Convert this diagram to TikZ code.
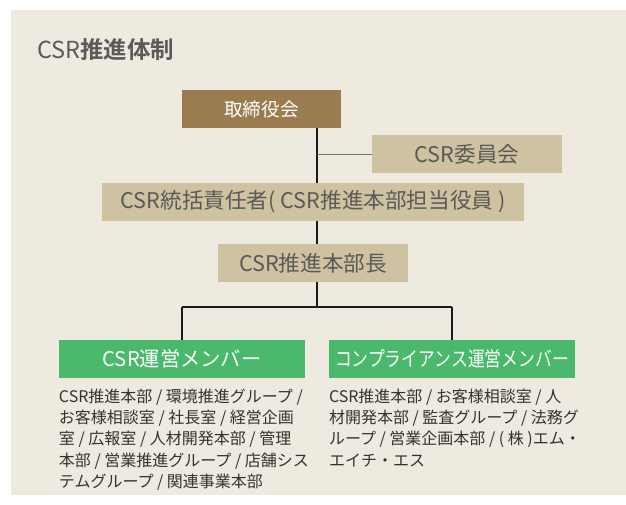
\documentclass[tikz,border=0pt]{standalone}
\usepackage{fontspec}
\usepackage{graphicx}
\usepackage{tikz}
\usepackage{xcolor}
\usetikzlibrary{positioning,calc}
\setmainfont{Noto Sans CJK JP}[BoldFont={Noto Sans CJK JP Bold}]
\definecolor{panel}{HTML}{EEEAE0}
\definecolor{bark}{HTML}{9A7C50}
\definecolor{sand}{HTML}{CFC2A0}
\definecolor{leaf}{HTML}{4AB96B}
\definecolor{ink}{HTML}{1A1A1A}
\definecolor{inkgray}{HTML}{5A5A5A}
\definecolor{bodygray}{HTML}{333333}
\definecolor{linegray}{HTML}{707070}
\tikzset{
  boardbox/.style={fill=bark,text=white,minimum width=119.25pt,minimum height=28.5pt,
                   inner sep=0pt,font=\fontsize{14}{16}\selectfont},
  tanbox/.style={fill=sand,text=inkgray,minimum height=28.5pt,
                 inner sep=0pt,font=\fontsize{16.2}{18}\selectfont},
  memberbox/.style={fill=leaf,text=white,minimum width=184.5pt,minimum height=28.5pt,
                    inner sep=0pt,font=\fontsize{15.2}{18}\selectfont},
  memotext/.style={anchor=north west,align=left,inner sep=0pt,text=bodygray,
                   font=\fontsize{12}{16}\selectfont},
  link/.style={draw=ink,line width=0.9pt},
  sublink/.style={draw=linegray,line width=1.3pt}
}

\begin{document}
\begin{tikzpicture}[x=0.75pt,y=-0.75pt]
  \useasboundingbox (0,0) rectangle (626,505);
  \fill[panel] (11,10) rectangle (626,495);
  % title
  \node[anchor=west,inner sep=0pt,text=inkgray,font=\fontsize{17.6}{20}\selectfont] (title) at (37,50) {CSR\textbf{推進体制}};
  % boxes
  \node[boardbox] (board) at (261.5,109) {取締役会};
  \node[tanbox,minimum width=142.5pt] (committee) at (467,154.5) {CSR委員会};
  \node[tanbox,minimum width=316.5pt] (chief) at (313,202) {CSR統括責任者( CSR推進本部担当役員 )};
  \node[tanbox,minimum width=142.5pt] (head) at (313,263) {CSR推進本部長};
  \node[memberbox] (ops) at (182,359) {CSR運営メンバー};
  \node[memberbox] (comp) at (452,359) {\scalebox{0.83}[1]{コンプライアンス運営メンバー}};
  \coordinate (fork) at (317,307);
  % connectors
  \draw[link] (board.south -| fork) -- (chief.north -| fork);
  \draw[link] (chief.south -| fork) -- (head.north -| fork);
  \draw[link] (head.south -| fork) -- (fork);
  \draw[sublink] (committee.west -| fork) -- (committee.west);
  \draw[link] (fork -| ops) -- (fork -| comp);
  \draw[link] (fork -| ops) -- (ops.north);
  \draw[link] (fork -| comp) -- (comp.north);
  % member lists
  \node[memotext] (opslist) at ($(ops.south west)+(0,10)$) {CSR推進本部 / 環境推進グループ /\\お客様相談室 / 社長室 / 経営企画\\室 / 広報室 / 人材開発本部 / 管理\\本部 / 営業推進グループ / 店舗シス\\テムグループ / 関連事業本部};
  \node[memotext] (complist) at ($(comp.south west)+(0,10)$) {CSR推進本部 / お客様相談室 / 人\\材開発本部 / 監査グループ / 法務グ\\ループ / 営業企画本部 / ( 株 )エム・\\エイチ・エス};
\end{tikzpicture}
\end{document}
